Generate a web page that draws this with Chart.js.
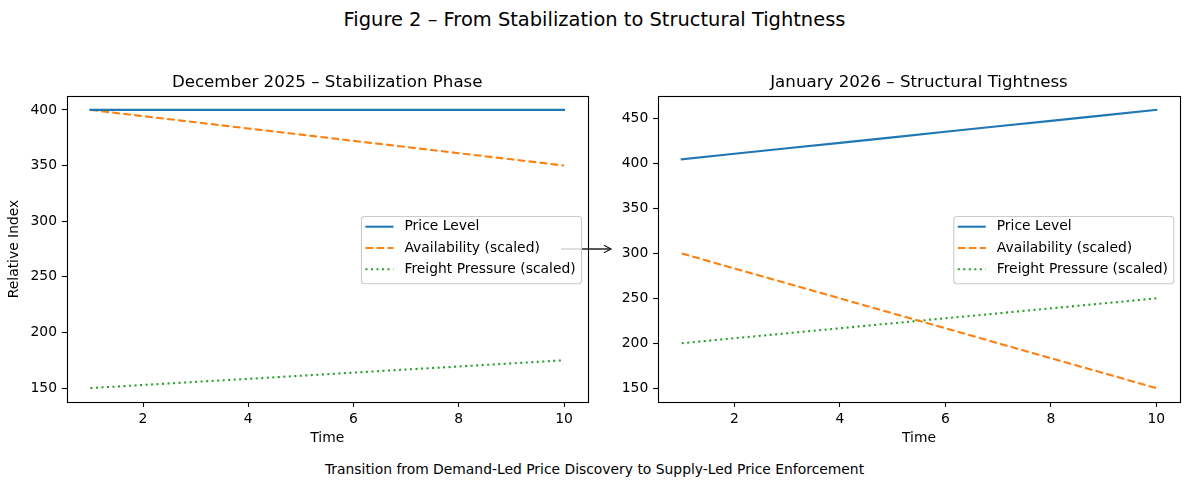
<!DOCTYPE html>
<html><head><meta charset="utf-8">
<script src="https://cdn.jsdelivr.net/npm/chart.js@4.4.0/dist/chart.umd.min.js"></script>
<style>
html,body{margin:0;padding:0;background:#fff;width:1189px;height:488px;overflow:hidden;font-family:"DejaVu Sans";}
canvas{position:absolute;top:0;}
#c1{left:0;}
#c2{left:600px;}
.t{position:absolute;left:0;width:1189px;text-align:center;color:#000;white-space:nowrap;font-family:"DejaVu Sans";}
</style></head><body>
<div class="t" style="top:9.7px;font-size:19.44px;line-height:19.44px;">Figure 2 – From Stabilization to Structural Tightness</div>
<div class="t" style="top:463.3px;font-size:13.89px;line-height:13.89px;">Transition from Demand-Led Price Discovery to Supply-Led Price Enforcement</div>
<canvas id="c1" width="620" height="488" style="width:620px;height:488px"></canvas>
<canvas id="c2" width="589" height="488" style="width:589px;height:488px"></canvas>
<script>
// ---- data ----
const timeSteps = [1,2,3,4,5,6,7,8,9,10];
const seriesLabels = ['Price Level','Availability (scaled)','Freight Pressure (scaled)'];
const decPrice   = [400,400,400,400,400,400,400,400,400,400];
const decAvail   = [400,394.4,388.9,383.3,377.8,372.2,366.7,361.1,355.6,350];
const decFreight = [150,152.8,155.6,158.3,161.1,163.9,166.7,169.4,172.2,175];
const janPrice   = [405,411.1,417.2,423.3,429.4,435.6,441.7,447.8,453.9,460];
const janAvail   = [300,283.3,266.7,250,233.3,216.7,200,183.3,166.7,150];
const janFreight = [200,205.6,211.1,216.7,222.2,227.8,233.3,238.9,244.4,250];
const xTicks     = [2,4,6,8,10];
const decYTicks  = [150,200,250,300,350,400];
const janYTicks  = [150,200,250,300,350,400,450];
const titles     = ['December 2025 – Stabilization Phase','January 2026 – Structural Tightness'];

const FONT = 'DejaVu Sans';
const FS = 13.89;
const COLORS = ['#1f77b4','#ff7f0e','#2ca02c'];
const DASHES = [[], [7.7,3.33], [2.08,3.44]];

function makeDatasets(arrs){
  return arrs.map((a,i)=>({
    label: seriesLabels[i],
    data: timeSteps.map((t,j)=>({x:t,y:a[j]})),
    borderColor: COLORS[i], backgroundColor: COLORS[i],
    borderWidth: 2.08, borderDash: DASHES[i], borderCapStyle: i===0?'square':'butt',
    pointRadius: 0, tension: 0, fill:false
  }));
}

const boxPlugin = {id:'box', afterDatasetsDraw(chart){
  const a=chart.chartArea, ctx=chart.ctx;
  ctx.save(); ctx.strokeStyle='#000'; ctx.lineWidth=1.11;
  ctx.strokeRect(Math.round(a.left)+0.5, Math.round(a.top)+0.5, Math.round(a.right-a.left), Math.round(a.bottom-a.top));
  ctx.restore();
}};

const arrowPlugin = {id:'arrow', afterDatasetsDraw(chart){
  if(!chart.options.drawArrow) return;
  const ctx=chart.ctx, y=249;
  ctx.save(); ctx.strokeStyle='#222'; ctx.lineWidth=1.3;
  ctx.beginPath(); ctx.moveTo(561,y); ctx.lineTo(611,y); ctx.stroke();
  ctx.beginPath(); ctx.moveTo(604,y-3.8); ctx.lineTo(611,y); ctx.lineTo(604,y+3.8); ctx.stroke();
  ctx.restore();
}};

const legendPlugin = {id:'mplLegend', afterDraw(chart){
  const ctx=chart.ctx, a=chart.chartArea, ds=chart.data.datasets;
  ctx.save();
  ctx.font = FS+'px "'+FONT+'"';
  const tw = Math.max(...ds.map(d=>ctx.measureText(d.label).width));
  const w = 4+28+11+tw+5.8, h = 67.3;
  const right = a.right-6.7, left = right-w;
  const top = (a.top+a.bottom)/2 - 33;
  ctx.beginPath(); ctx.roundRect(left+0.5, top+0.5, w, h, 3);
  ctx.fillStyle='rgba(255,255,255,0.8)'; ctx.fill();
  ctx.strokeStyle='#cccccc'; ctx.lineWidth=1.11; ctx.stroke();
  ds.forEach((d,i)=>{
    const y = top+10.7+i*21.3;
    ctx.strokeStyle=d.borderColor; ctx.lineWidth=2.08; ctx.setLineDash(d.borderDash||[]);
    ctx.lineCap = 'butt';
    ctx.beginPath(); ctx.moveTo(left+4.5,y); ctx.lineTo(left+32.5,y); ctx.stroke();
    ctx.setLineDash([]);
    ctx.fillStyle='#000'; ctx.textBaseline='middle'; ctx.textAlign='left';
    ctx.fillText(d.label, left+43.5, y);
  });
  ctx.restore();
}};

function makeChart(id, arrs, title, yMin, yMax, yTicks, yWidth, padRight, yTitle, drawArrow){
  const gridOpts = {display:true,drawOnChartArea:false,drawTicks:true,tickLength:4.86,tickWidth:1.11,tickColor:'#000'};
  return new Chart(document.getElementById(id), {
    type:'line',
    data:{datasets: makeDatasets(arrs)},
    options:{
      responsive:false, animation:false, drawArrow,
      layout:{padding:{left:0,right:padRight,top:0,bottom:0}},
      plugins:{legend:{display:false}, tooltip:{enabled:false},
        title:{display:true,fullSize:false,text:title,color:'#000',font:{family:FONT,size:16.67,weight:'normal'},padding:{top:72.5,bottom:3.5}}},
      scales:{
        x:{type:'linear',min:0.55,max:10.45,
          afterBuildTicks:s=>{s.ticks=xTicks.map(v=>({value:v}));},
          afterFit:s=>{s.height=86;},
          grid:gridOpts,
          border:{display:false},
          ticks:{color:'#000',font:{family:FONT,size:FS},padding:4.5,maxRotation:0,autoSkip:false},
          title:{display:true,text:'Time',color:'#000',font:{family:FONT,size:FS},padding:{top:0,bottom:41}}},
        y:{type:'linear',min:yMin,max:yMax,
          afterBuildTicks:s=>{s.ticks=yTicks.map(v=>({value:v}));},
          afterFit:s=>{s.width=yWidth;},
          grid:gridOpts,
          border:{display:false},
          ticks:{color:'#000',font:{family:FONT,size:FS},padding:4.86,autoSkip:false},
          title:{display:!!yTitle,text:yTitle||'',color:'#000',font:{family:FONT,size:FS},padding:{top:6.5,bottom:0}}}
      }
    },
    plugins:[boxPlugin, arrowPlugin, legendPlugin]
  });
}

makeChart('c1',[decPrice,decAvail,decFreight],titles[0],137.5,412.5,decYTicks,66.7,32.3,'Relative Index',true);
makeChart('c2',[janPrice,janAvail,janFreight],titles[1],134.5,475.5,janYTicks,58,9,null,false);
</script>
</body></html>
